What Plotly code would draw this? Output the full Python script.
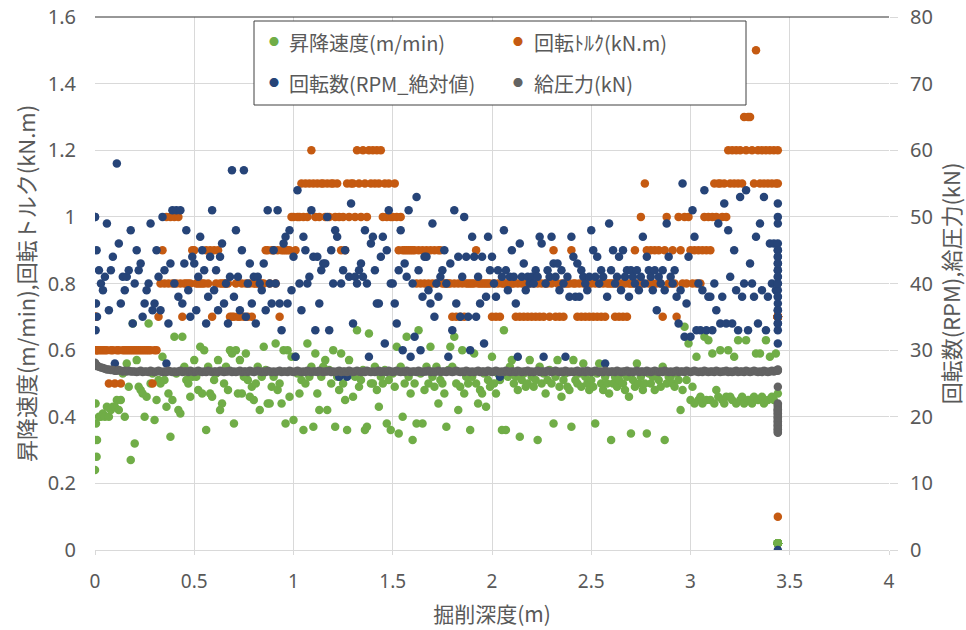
import plotly.graph_objects as go

# ---- data (one row per logged depth) ----
depth = [
    0.000, 0.000, 0.003, 0.005, 0.008, 0.01, 0.02, 0.03, 0.04, 0.05, 0.06, 0.07, 0.08, 0.09,
    0.10, 0.11, 0.12, 0.13, 0.14, 0.15, 0.16, 0.17, 0.18, 0.19,
    0.20, 0.21, 0.22, 0.23, 0.24, 0.25, 0.26, 0.27, 0.28, 0.29,
    0.30, 0.31, 0.32, 0.33, 0.34, 0.35, 0.36, 0.37, 0.38, 0.39,
    0.40, 0.41, 0.42, 0.43, 0.44, 0.45, 0.46, 0.47, 0.48, 0.49,
    0.50, 0.51, 0.52, 0.53, 0.54, 0.55, 0.56, 0.57, 0.58, 0.59,
    0.60, 0.61, 0.62, 0.63, 0.64, 0.65, 0.66, 0.67, 0.68, 0.69,
    0.70, 0.71, 0.72, 0.73, 0.74, 0.75, 0.76, 0.77, 0.78, 0.79,
    0.80, 0.81, 0.82, 0.83, 0.84, 0.85, 0.86, 0.87, 0.88, 0.89,
    0.90, 0.91, 0.92, 0.93, 0.94, 0.95, 0.96, 0.97, 0.98, 0.99,
    1.00, 1.01, 1.02, 1.03, 1.04, 1.05, 1.06, 1.07, 1.08, 1.09,
    1.10, 1.11, 1.12, 1.13, 1.14, 1.15, 1.16, 1.17, 1.18, 1.19,
    1.20, 1.21, 1.22, 1.23, 1.24, 1.25, 1.26, 1.27, 1.28, 1.29,
    1.30, 1.31, 1.32, 1.33, 1.34, 1.35, 1.36, 1.37, 1.38, 1.39,
    1.40, 1.41, 1.42, 1.43, 1.44, 1.45, 1.46, 1.47, 1.48, 1.49,
    1.50, 1.51, 1.52, 1.53, 1.54, 1.55, 1.56, 1.57, 1.58, 1.59,
    1.60, 1.61, 1.62, 1.63, 1.64, 1.65, 1.66, 1.67, 1.68, 1.69,
    1.70, 1.71, 1.72, 1.73, 1.74, 1.75, 1.76, 1.77, 1.78, 1.79,
    1.80, 1.81, 1.82, 1.83, 1.84, 1.85, 1.86, 1.87, 1.88, 1.89,
    1.90, 1.91, 1.92, 1.93, 1.94, 1.95, 1.96, 1.97, 1.98, 1.99,
    2.00, 2.01, 2.02, 2.03, 2.04, 2.05, 2.06, 2.07, 2.08, 2.09,
    2.10, 2.11, 2.12, 2.13, 2.14, 2.15, 2.16, 2.17, 2.18, 2.19,
    2.20, 2.21, 2.22, 2.23, 2.24, 2.25, 2.26, 2.27, 2.28, 2.29,
    2.30, 2.31, 2.32, 2.33, 2.34, 2.35, 2.36, 2.37, 2.38, 2.39,
    2.40, 2.41, 2.42, 2.43, 2.44, 2.45, 2.46, 2.47, 2.48, 2.49,
    2.50, 2.51, 2.52, 2.53, 2.54, 2.55, 2.56, 2.57, 2.58, 2.59,
    2.60, 2.61, 2.62, 2.63, 2.64, 2.65, 2.66, 2.67, 2.68, 2.69,
    2.70, 2.71, 2.72, 2.73, 2.74, 2.75, 2.76, 2.77, 2.78, 2.79,
    2.80, 2.81, 2.82, 2.83, 2.84, 2.85, 2.86, 2.87, 2.88, 2.89,
    2.90, 2.91, 2.92, 2.93, 2.94, 2.95, 2.96, 2.97, 2.98, 2.99,
    3.00, 3.01, 3.02, 3.03, 3.04, 3.05, 3.06, 3.07, 3.08, 3.09,
    3.10, 3.11, 3.12, 3.13, 3.14, 3.15, 3.16, 3.17, 3.18, 3.19,
    3.20, 3.21, 3.22, 3.23, 3.24, 3.25, 3.26, 3.27, 3.28, 3.29,
    3.30, 3.31, 3.32, 3.33, 3.34, 3.35, 3.36, 3.37, 3.38, 3.39,
    3.40, 3.41, 3.42, 3.43,
    3.44, 3.44, 3.44, 3.44, 3.44, 3.44, 3.44, 3.44, 3.44, 3.44, 3.44, 3.44, 3.44, 3.44,
    3.44, 3.44, 3.44, 3.44, 3.44, 3.44, 3.44, 3.44, 3.44, 3.44, 3.44, 3.44, 3.44, 3.44,
]

speed = [  # 昇降速度 (m/min)
    0.24, 0.33, 0.44, 0.38, 0.28, 0.33, 0.40, 0.40, 0.41, 0.40, 0.43, 0.40, 0.42, 0.43,
    0.43, 0.45, 0.42, 0.45, 0.53, 0.40, 0.56, 0.49, 0.27, 0.68,
    0.32, 0.57, 0.49, 0.48, 0.47, 0.40, 0.46, 0.68, 0.50, 0.53,
    0.39, 0.45, 0.51, 0.50, 0.58, 0.51, 0.43, 0.47, 0.34, 0.45,
    0.64, 0.53, 0.42, 0.41, 0.64, 0.55, 0.51, 0.50, 0.46, 0.52,
    0.57, 0.52, 0.48, 0.61, 0.47, 0.60, 0.36, 0.55, 0.47, 0.46,
    0.51, 0.53, 0.57, 0.42, 0.44, 0.50, 0.55, 0.48, 0.60, 0.59,
    0.38, 0.60, 0.47, 0.57, 0.47, 0.52, 0.59, 0.51, 0.46, 0.49,
    0.45, 0.50, 0.55, 0.42, 0.52, 0.61, 0.54, 0.44, 0.44, 0.49,
    0.52, 0.62, 0.48, 0.50, 0.44, 0.60, 0.38, 0.60, 0.46, 0.58,
    0.39, 0.58, 0.53, 0.47, 0.51, 0.36, 0.50, 0.62, 0.52, 0.55,
    0.37, 0.59, 0.47, 0.42, 0.52, 0.55, 0.57, 0.42, 0.54, 0.50,
    0.60, 0.37, 0.52, 0.48, 0.59, 0.50, 0.45, 0.36, 0.57, 0.53,
    0.46, 0.52, 0.66, 0.49, 0.51, 0.54, 0.36, 0.37, 0.65, 0.50,
    0.50, 0.55, 0.48, 0.43, 0.52, 0.50, 0.54, 0.38, 0.51, 0.36,
    0.53, 0.49, 0.61, 0.35, 0.55, 0.40, 0.50, 0.64, 0.52, 0.47,
    0.33, 0.50, 0.38, 0.66, 0.53, 0.38, 0.48, 0.55, 0.50, 0.61,
    0.52, 0.49, 0.55, 0.44, 0.51, 0.50, 0.47, 0.37, 0.54, 0.61,
    0.55, 0.64, 0.50, 0.42, 0.49, 0.60, 0.47, 0.52, 0.50, 0.36,
    0.52, 0.59, 0.50, 0.44, 0.48, 0.47, 0.53, 0.43, 0.51, 0.49,
    0.58, 0.50, 0.47, 0.53, 0.51, 0.36, 0.66, 0.36, 0.52, 0.55,
    0.57, 0.50, 0.52, 0.48, 0.34, 0.51, 0.53, 0.49, 0.50, 0.57,
    0.52, 0.49, 0.51, 0.33, 0.55, 0.50, 0.53, 0.47, 0.51, 0.54,
    0.50, 0.38, 0.52, 0.57, 0.49, 0.46, 0.51, 0.53, 0.49, 0.48,
    0.37, 0.57, 0.51, 0.50, 0.53, 0.49, 0.56, 0.52, 0.50, 0.48,
    0.51, 0.49, 0.38, 0.53, 0.56, 0.50, 0.48, 0.52, 0.50, 0.47,
    0.33, 0.50, 0.52, 0.49, 0.51, 0.53, 0.50, 0.48, 0.52, 0.46,
    0.35, 0.51, 0.49, 0.56, 0.50, 0.52, 0.48, 0.50, 0.35, 0.53,
    0.50, 0.52, 0.48, 0.53, 0.51, 0.49, 0.55, 0.33, 0.50, 0.52,
    0.52, 0.50, 0.49, 0.53, 0.51, 0.42, 0.48, 0.67, 0.51, 0.62,
    0.45, 0.49, 0.44, 0.58, 0.45, 0.46, 0.44, 0.64, 0.45, 0.63,
    0.45, 0.59, 0.44, 0.48, 0.46, 0.60, 0.45, 0.44, 0.46, 0.60,
    0.46, 0.45, 0.58, 0.44, 0.63, 0.45, 0.46, 0.44, 0.63, 0.45,
    0.45, 0.44, 0.46, 0.59, 0.45, 0.59, 0.46, 0.44, 0.63, 0.45,
    0.58, 0.46, 0.45, 0.59,
    0.47, 0.02, 0.02, 0.02, 0.02, 0.02, 0.02, 0.02, 0.02, 0.02, 0.02, 0.02, 0.02, 0.02,
    0.02, 0.02, 0.02, 0.02, 0.02, 0.02, 0.02, 0.02, 0.02, 0.02, 0.02, 0.02, 0.02, 0.02,
]

torque = [  # 回転トルク (kN.m)
    0.7, 0.7, 0.6, 0.7, 0.6, 0.6, 0.6, 0.6, 0.6, 0.6, 0.6, 0.5, 0.6, 0.6,
    0.5, 0.6, 0.6, 0.5, 0.6, 0.6, 0.6, 0.6, 0.6, 0.6,
    0.6, 0.6, 0.6, 0.6, 0.6, 0.6, 0.6, 0.6, 0.6, 0.5,
    0.6, 0.6, 0.7, 0.8, 0.9, 0.8, 1.0, 0.8, 1.0, 0.8,
    1.0, 0.8, 1.0, 0.8, 0.7, 0.8, 0.8, 0.8, 0.8, 0.9,
    0.9, 0.8, 0.8, 0.8, 0.8, 0.8, 0.9, 0.8, 0.9, 0.7,
    0.9, 0.8, 0.9, 0.8, 0.8, 0.8, 0.8, 0.8, 0.7, 0.7,
    0.7, 0.8, 0.7, 0.7, 0.8, 0.7, 0.8, 0.7, 0.8, 0.7,
    0.8, 0.8, 0.8, 0.8, 0.8, 0.8, 0.9, 0.9, 0.8, 0.9,
    0.9, 0.8, 0.9, 0.7, 0.9, 0.9, 0.9, 0.9, 0.9, 1.0,
    1.0, 0.9, 1.0, 1.0, 1.1, 1.0, 1.1, 1.0, 1.1, 1.2,
    1.1, 1.0, 1.1, 1.0, 1.1, 1.1, 1.0, 1.1, 1.0, 1.1,
    1.1, 1.0, 1.1, 1.0, 0.9, 1.0, 0.9, 1.1, 1.0, 1.1,
    1.1, 1.0, 1.2, 1.1, 1.0, 1.2, 1.1, 1.0, 1.2, 1.1,
    1.2, 1.1, 1.2, 1.1, 1.2, 1.0, 1.1, 1.0, 1.1, 1.0,
    1.0, 1.1, 1.0, 0.9, 1.0, 0.9, 0.9, 0.9, 0.9, 0.9,
    0.9, 0.9, 0.8, 0.9, 0.8, 0.9, 0.8, 0.9, 0.8, 0.9,
    0.8, 0.9, 0.8, 0.9, 0.9, 0.8, 0.8, 0.8, 0.8, 0.8,
    0.7, 0.8, 0.7, 0.8, 0.7, 0.8, 0.7, 0.8, 0.8, 0.8,
    0.8, 0.8, 0.9, 0.8, 0.8, 0.8, 0.8, 0.8, 0.8, 0.8,
    0.7, 0.8, 0.7, 0.8, 0.7, 0.8, 0.8, 0.8, 0.8, 0.8,
    0.8, 0.8, 0.7, 0.8, 0.7, 0.8, 0.7, 0.8, 0.7, 0.8,
    0.7, 0.8, 0.7, 0.8, 0.7, 0.8, 0.7, 0.8, 0.8, 0.7,
    0.8, 0.9, 0.7, 0.8, 0.7, 0.8, 0.7, 0.8, 0.8, 0.8,
    0.9, 0.8, 0.8, 0.7, 0.8, 0.7, 0.8, 0.7, 0.8, 0.7,
    0.8, 0.7, 0.8, 0.7, 0.8, 0.7, 0.8, 0.7, 0.8, 0.8,
    0.8, 0.8, 0.7, 0.8, 0.7, 0.8, 0.7, 0.8, 0.7, 0.8,
    0.8, 0.8, 0.9, 0.8, 0.8, 1.0, 0.8, 1.1, 0.9, 0.8,
    0.9, 0.8, 0.9, 0.8, 0.9, 0.8, 0.7, 0.9, 1.0, 0.8,
    0.8, 0.9, 0.8, 0.7, 1.0, 0.9, 0.8, 1.0, 0.8, 1.0,
    0.9, 0.8, 0.9, 0.8, 0.9, 0.8, 0.9, 1.0, 0.9, 1.0,
    0.9, 1.0, 1.1, 1.0, 1.1, 1.1, 1.0, 1.1, 1.0, 1.2,
    1.1, 1.2, 1.1, 1.2, 1.1, 1.2, 1.1, 1.3, 1.2, 1.3,
    1.3, 1.2, 1.1, 1.5, 1.2, 1.1, 1.2, 1.1, 1.2, 1.1,
    1.2, 1.1, 1.2, 1.1,
    1.1, 1.2, 0.7, 0.7, 0.7, 0.7, 0.7, 0.7, 0.7, 0.7, 0.7, 0.7, 0.7, 0.7,
    0.7, 0.7, 0.7, 0.7, 0.7, 0.7, 0.7, 0.7, 0.7, 0.7, 0.7, 0.7, 0.7, 0.1,
]

rpm = [  # 回転数 (RPM, 絶対値)
    50, 50, 33, 37, 45, 35, 42, 40, 39, 41, 49, 36, 42, 44,
    28, 58, 46, 37, 41, 39, 41, 42, 48, 34,
    40, 45, 42, 43, 35, 37, 39, 40, 49, 36,
    37, 45, 41, 36, 50, 42, 28, 34, 43, 51,
    40, 51, 38, 51, 37, 43, 48, 39, 35, 44,
    43, 36, 41, 47, 45, 42, 34, 38, 44, 51,
    39, 42, 36, 44, 46, 37, 40, 34, 41, 57,
    38, 48, 41, 36, 45, 57, 35, 40, 43, 37,
    41, 34, 41, 40, 39, 43, 36, 51, 40, 37,
    45, 40, 51, 37, 33, 46, 47, 37, 48, 39,
    44, 29, 54, 40, 36, 47, 45, 40, 41, 51,
    44, 33, 44, 37, 42, 43, 43, 50, 33, 45,
    40, 48, 47, 26, 40, 42, 45, 26, 41, 52,
    34, 41, 40, 42, 43, 41, 48, 40, 29, 46,
    47, 42, 37, 37, 44, 47, 31, 45, 51, 40,
    40, 37, 34, 42, 48, 30, 43, 41, 51, 29,
    40, 32, 53, 42, 30, 38, 44, 44, 39, 37,
    49, 35, 40, 38, 41, 42, 45, 40, 29, 43,
    33, 51, 37, 44, 35, 41, 50, 44, 35, 30,
    47, 44, 35, 41, 37, 44, 31, 38, 47, 42,
    44, 40, 38, 42, 26, 41, 48, 42, 39, 41,
    45, 41, 37, 29, 46, 41, 43, 39, 41, 40,
    41, 40, 42, 41, 47, 46, 29, 40, 42, 41,
    47, 43, 41, 43, 39, 42, 40, 29, 41, 38,
    47, 44, 38, 43, 38, 42, 41, 40, 39, 41,
    48, 45, 41, 44, 40, 42, 41, 28, 38, 49,
    42, 45, 40, 41, 44, 39, 45, 41, 42, 38,
    42, 41, 40, 42, 39, 41, 47, 40, 44, 42,
    41, 39, 42, 36, 41, 40, 42, 39, 49, 44,
    41, 40, 42, 38, 34, 39, 55, 32, 37, 44,
    32, 51, 47, 33, 40, 33, 39, 54, 33, 38,
    38, 33, 40, 36, 49, 34, 38, 52, 34, 48,
    41, 34, 45, 39, 33, 53, 38, 40, 54, 33,
    43, 40, 38, 47, 34, 49, 39, 53, 33, 38,
    46, 40, 46, 39,
    52, 50, 49, 46, 45, 44, 43, 42, 41, 40, 39, 38, 37, 36,
    35, 34, 33, 31, 45, 44, 42, 40, 38, 36, 34, 43, 41, 0,
]

pressure = [  # 給圧力 (kN)
    28.1, 28.0, 27.9, 27.8, 27.7, 27.6, 27.5, 27.4, 27.3, 27.2, 27.1, 27.1, 27.0, 27.0,
    26.9, 26.9, 27.0, 26.9, 26.8, 26.9, 26.8, 26.9, 26.8, 26.8,
    26.8, 26.7, 26.8, 26.9, 26.7, 26.8, 26.8, 26.7, 26.9, 26.8,
    26.7, 26.8, 26.9, 26.8, 26.7, 26.8, 26.7, 26.9, 26.8, 26.7,
    26.8, 26.7, 26.8, 26.9, 26.7, 26.8, 26.8, 26.7, 26.9, 26.8,
    26.7, 26.8, 26.9, 26.8, 26.7, 26.8, 26.7, 26.9, 26.8, 26.7,
    26.8, 26.8, 26.7, 26.9, 26.8, 26.7, 26.8, 26.8, 26.9, 26.7,
    26.8, 26.7, 26.8, 26.9, 26.7, 26.8, 26.8, 26.7, 26.9, 26.8,
    26.7, 26.8, 26.9, 26.8, 26.7, 26.8, 26.7, 26.9, 26.8, 26.7,
    26.8, 26.7, 26.8, 26.9, 26.7, 26.8, 26.8, 26.7, 26.9, 26.8,
    26.7, 26.8, 26.9, 26.8, 26.7, 26.8, 26.7, 26.9, 26.8, 26.7,
    26.8, 26.8, 26.7, 26.9, 26.8, 26.7, 26.8, 26.8, 26.9, 26.7,
    26.8, 26.7, 26.8, 26.9, 26.7, 26.8, 26.8, 26.7, 26.9, 26.8,
    26.7, 26.8, 26.9, 26.8, 26.7, 26.8, 26.7, 26.9, 26.8, 26.7,
    26.8, 26.7, 26.8, 26.9, 26.7, 26.8, 26.8, 26.7, 26.9, 26.8,
    26.7, 26.8, 26.9, 26.8, 26.7, 26.8, 26.7, 26.9, 26.8, 26.7,
    26.8, 26.8, 26.7, 26.9, 26.8, 26.7, 26.8, 26.8, 26.9, 26.7,
    26.8, 26.7, 26.8, 26.9, 26.7, 26.8, 26.8, 26.7, 26.9, 26.8,
    26.7, 26.8, 26.9, 26.8, 26.7, 26.8, 26.7, 26.9, 26.8, 26.7,
    26.8, 26.7, 26.8, 26.9, 26.7, 26.8, 26.8, 26.7, 26.9, 26.8,
    26.7, 26.8, 26.9, 26.8, 26.7, 26.8, 26.7, 26.9, 26.8, 26.7,
    26.8, 26.8, 26.7, 26.9, 26.8, 26.7, 26.8, 26.8, 26.9, 26.7,
    26.8, 26.7, 26.8, 26.9, 26.7, 26.8, 26.8, 26.7, 26.9, 26.8,
    26.7, 26.8, 26.9, 26.8, 26.7, 26.8, 26.7, 26.9, 26.8, 26.7,
    26.8, 26.7, 26.8, 26.9, 26.7, 26.8, 26.8, 26.7, 26.9, 26.8,
    26.7, 26.8, 26.9, 26.8, 26.7, 26.8, 26.7, 26.9, 26.8, 26.7,
    26.8, 26.8, 26.7, 26.9, 26.8, 26.7, 26.8, 26.8, 26.9, 26.7,
    26.8, 26.7, 26.8, 26.9, 26.7, 26.8, 26.8, 26.7, 26.9, 26.8,
    26.7, 26.8, 26.9, 26.8, 26.7, 26.8, 26.7, 26.9, 26.8, 26.7,
    26.8, 26.7, 26.8, 26.9, 26.7, 26.8, 26.8, 26.7, 26.9, 26.8,
    26.7, 26.8, 26.9, 26.8, 26.7, 26.8, 26.7, 26.9, 26.8, 26.7,
    26.8, 26.8, 26.7, 26.9, 26.8, 26.7, 26.8, 26.8, 26.9, 26.7,
    26.8, 26.7, 26.8, 26.9, 26.7, 26.8, 26.8, 26.7, 26.9, 26.8,
    26.7, 26.8, 26.9, 26.8, 26.7, 26.8, 26.7, 26.9, 26.8, 26.7,
    26.8, 26.9, 26.8, 26.9,
    27.0, 27.1, 26.9, 24.5, 22.0, 21.6, 21.3, 21.0, 20.7, 20.4, 20.1, 19.8, 19.5, 19.2,
    18.9, 18.6, 18.3, 18.0, 17.7, 21.8, 21.1, 20.5, 19.9, 19.3, 18.7, 18.1, 17.6, 20.9,
]

series_names = ["昇降速度(m/min)", "回転ﾄﾙｸ(kN.m)", "回転数(RPM_絶対値)", "給圧力(kN)"]
colors = ["#70AD47", "#C55A11", "#264478", "#636363"]

x_ticks = [0, 0.5, 1, 1.5, 2, 2.5, 3, 3.5, 4]
y_ticks = [0, 0.2, 0.4, 0.6, 0.8, 1, 1.2, 1.4, 1.6]
y2_ticks = [0, 10, 20, 30, 40, 50, 60, 70, 80]

# ---- figure ----
TXT = "#595959"
FONT_NUM = "Noto Sans, Noto Sans CJK JP"
FONT_JP = "Noto Sans CJK JP"
GRID = "#D9D9D9"
MS = 8.5

fig = go.Figure()
fig.add_trace(go.Scatter(x=depth, y=speed, mode="markers", name=series_names[0],
                         marker=dict(color=colors[0], size=MS), showlegend=False))
fig.add_trace(go.Scatter(x=depth, y=torque, mode="markers", name=series_names[1],
                         marker=dict(color=colors[1], size=MS), showlegend=False))
fig.add_trace(go.Scatter(x=depth, y=rpm, mode="markers", name=series_names[2], yaxis="y2",
                         marker=dict(color=colors[2], size=MS), showlegend=False))
fig.add_trace(go.Scatter(x=depth, y=pressure, mode="markers", name=series_names[3], yaxis="y2",
                         marker=dict(color=colors[3], size=MS), showlegend=False))

fig.update_layout(
    width=966, height=630,
    margin=dict(l=95, r=77, t=17, b=80, autoexpand=False),
    paper_bgcolor="white", plot_bgcolor="white",
    font=dict(family=FONT_NUM, color=TXT),
    xaxis=dict(range=[0, 4], tickvals=x_ticks, showgrid=True, gridcolor=GRID, gridwidth=1,
               zeroline=False, showline=True, linecolor=GRID, linewidth=1, automargin=False,
               ticks="outside", ticklen=4, tickcolor=GRID, ticklabelstandoff=10,
               tickfont=dict(size=19, color=TXT, family=FONT_NUM),
               title=dict(text="掘削深度(m)", font=dict(size=21, color=TXT, family=FONT_JP), standoff=14)),
    yaxis=dict(range=[0, 1.6], tickvals=y_ticks, showgrid=True, gridcolor=GRID, gridwidth=1,
               zeroline=False, showline=False, ticks="", ticklabelstandoff=18, automargin=False,
               tickfont=dict(size=20, color=TXT, family=FONT_NUM),
               title=dict(text="昇降速度(m/min),回転トルク(kN.m)",
                          font=dict(size=22, color=TXT, family=FONT_JP), standoff=6)),
    yaxis2=dict(range=[0, 80], tickvals=y2_ticks, overlaying="y", side="right",
                showgrid=False, zeroline=False, showline=False, automargin=False,
                ticks="outside", ticklen=8, tickcolor=GRID, ticklabelstandoff=8,
                tickfont=dict(size=20, color=TXT, family=FONT_NUM),
                title=dict(text="回転数(RPM),給圧力(kN)",
                           font=dict(size=22, color=TXT, family=FONT_JP), standoff=12)),
)

# top border line of the plot area
fig.add_shape(type="line", xref="paper", yref="paper", x0=0, x1=1, y0=1, y1=1,
              line=dict(color="#303030", width=1))

# legend box (drawn by hand so the two-column layout matches)
PW, PH = 794.0, 533.0
def px_x(p):
    return (p - 95) / PW
def px_y(p):
    return (550 - p) / PH

fig.add_shape(type="rect", xref="paper", yref="paper",
              x0=px_x(254), x1=px_x(746), y0=px_y(105), y1=px_y(21),
              line=dict(color="#404040", width=1), fillcolor="white", layer="above")

legend_pos = [(274, 287, 42), (518, 532, 42), (274, 287, 83), (518, 532, 83)]
for (dot_x, txt_x, row_y), name, col in zip(legend_pos, series_names, colors):
    fig.add_annotation(xref="paper", yref="paper", x=px_x(dot_x), y=px_y(row_y),
                       text="●", showarrow=False, xanchor="center", yanchor="middle",
                       font=dict(size=10, color=col, family=FONT_NUM))
    fig.add_annotation(xref="paper", yref="paper", x=px_x(txt_x), y=px_y(row_y),
                       text=name, showarrow=False, xanchor="left", yanchor="middle",
                       font=dict(size=20, color=TXT, family=FONT_JP))

fig.write_html("out.html", config={"displayModeBar": False},
               post_script="document.body.style.margin='0';document.body.style.overflow='hidden';")
